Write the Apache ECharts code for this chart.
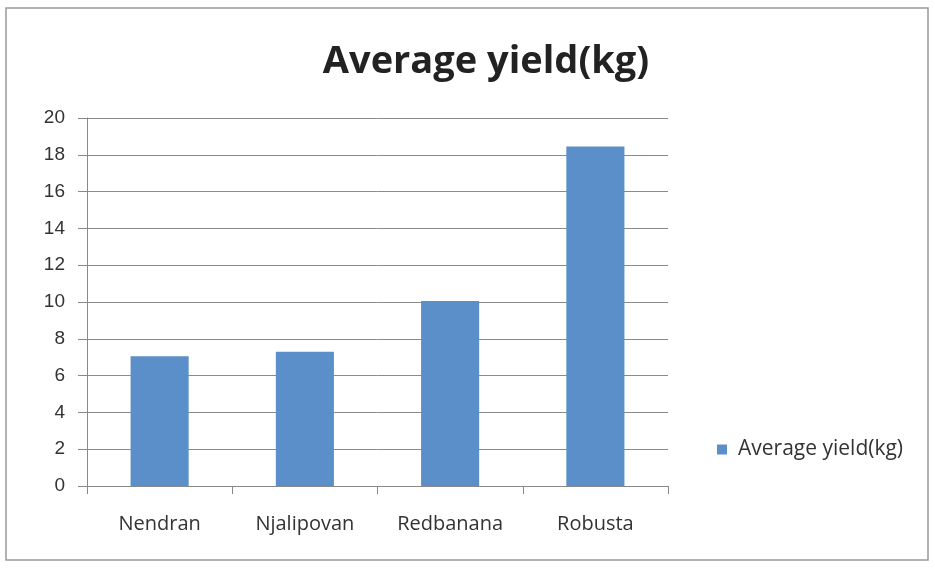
<!DOCTYPE html>
<html>
<head>
<meta charset="utf-8">
<script src="https://cdn.jsdelivr.net/npm/echarts@6/dist/echarts.min.js"></script>
<style>
  html, body { margin: 0; padding: 0; background: #fff; }
  #chart { width: 935px; height: 568px; }
</style>
</head>
<body>
<div id="chart"></div>
<script>
// data
var categories = ['Nendran', 'Njalipovan', 'Redbanana', 'Robusta'];
var yieldValues = [7.05, 7.3, 10.05, 18.45];
var seriesName = 'Average yield(kg)';

var myChart = echarts.init(document.getElementById('chart'));
var option = {
    backgroundColor: '#fff',
    title: {
        text: 'Average yield(kg)',
        left: 481,
        top: 38,
        textAlign: 'center',
        textStyle: {
            fontFamily: 'Open Sans',
            fontSize: 38,
            fontWeight: 'bold',
            color: '#222'
        }
    },
    legend: {
        orient: 'vertical',
        left: 712,
        top: 434,
        itemWidth: 10,
        itemHeight: 10,
        icon: 'rect',
        textStyle: { fontFamily: 'Open Sans', fontSize: 21, color: '#333', padding: [0, 0, 0, 6] },
        data: [seriesName]
    },
    grid: { left: 87, right: 267, top: 118, bottom: 82 },
    xAxis: {
        type: 'category',
        data: categories,
        axisLine: { lineStyle: { color: '#888' } },
        axisTick: { show: true, length: 8, lineStyle: { color: '#888' } },
        axisLabel: { margin: 28, fontFamily: 'Open Sans', fontSize: 20, color: '#333' }
    },
    yAxis: {
        type: 'value',
        min: 0,
        max: 20,
        interval: 2,
        axisLine: { show: true, lineStyle: { color: '#888' } },
        axisTick: { show: true, length: 9, lineStyle: { color: '#888' } },
        axisLabel: { margin: 22, fontFamily: 'Liberation Sans', fontSize: 19, color: '#333' },
        splitLine: { lineStyle: { color: '#8a8a8a', width: 1 } }
    },
    series: [
        {
            name: seriesName,
            type: 'bar',
            data: yieldValues,
            barWidth: '40%',
            itemStyle: { color: '#5b8fc9' }
        }
    ],
    graphic: [
        {
            type: 'rect',
            shape: { x: 6, y: 8, width: 922, height: 552 },
            style: { fill: 'none', stroke: '#999', lineWidth: 1.5 }
        }
    ]
};
myChart.setOption(option);
</script>
</body>
</html>
